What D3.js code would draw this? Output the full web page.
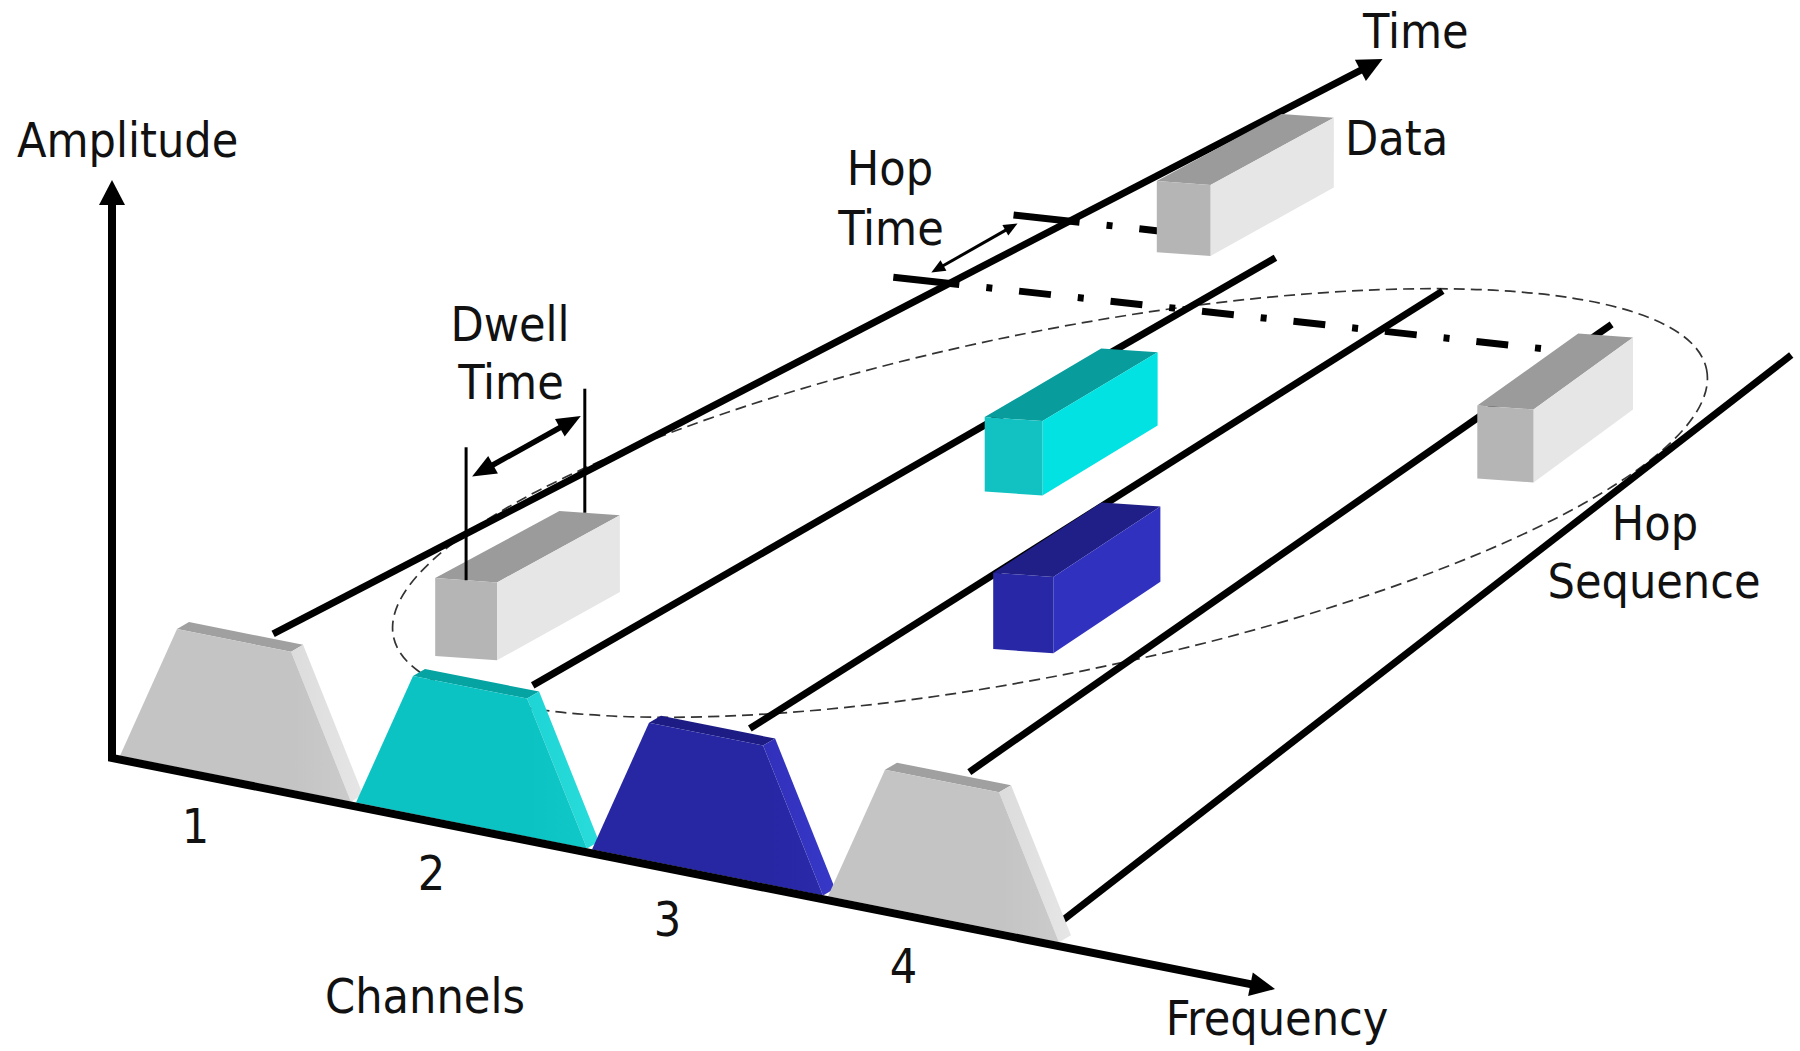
<!DOCTYPE html>
<html><head><meta charset="utf-8">
<script src="https://cdn.jsdelivr.net/npm/d3@7"></script>
<style>
html,body{margin:0;padding:0;background:#fff;}
svg text{font-family:"DejaVu Sans Condensed","DejaVu Sans",sans-serif;font-stretch:condensed;fill:#111;font-size:48px;}
</style></head><body>
<svg id="c" width="1800" height="1051"></svg>
<script>
// ---------------- data ----------------
const channels = ["1", "2", "3", "4"];
const channelColor = ["gray", "cyan", "blue", "gray"];
// lateral position (channel units) of every channel's time line, and where each line starts / ends in depth
const lineLanes = [0.97, 2.07, 2.99, 3.92, 4.88];
const lineStart = [0, 0, 0, 0, -0.052];
const lineEnd = [0.318, 0.23, 0.23, 0.23, 0.232];
// hop sequence: channel used in each hop, lateral position of the packet, start time of the hop
const hopChannel = [1, 3, 2, 4, 1];
const hopLateral = [1.6, 3.39, 2.48, 4.26, 1.55];
const hopStart = [0, 0.86, 2.0, 2.81, 4.0];
const dwellTime = 0.68;
// hop-time markers: times on the time axis and the packet each guide runs to
const hopMarks = [3.47, 4.1];
const hopMarkPacket = [3, 4];
// texts
const axisTitles = ["Amplitude", "Time", "Frequency", "Channels"];
const notes = [["Dwell", "Time"], ["Hop", "Time"], ["Hop", "Sequence"], ["Data"]];

// ---------------- scales / projection ----------------
const fx = d3.scaleLinear().domain([0, 1]).range([120, 356]);
const fy = d3.scaleLinear().domain([0, 1]).range([759.8, 806.65]);
const freqPt = f => [fx(f), fy(f)];
const amp = d3.scaleLinear().domain([0, 1]).range([0, 138]);
const ampAxis = d3.scaleLinear().domain([0, 1]).range([758, 180]);
const depth = d3.scaleLinear().domain([0, 4]).range([0.004, 0.2228]);
const VP = [3762, -1174];
const ext = [12, -7];
const channelShape = [[0, 0], [0.2415, 1], [0.725, 1], [0.979, 0]];

const add = (a, b) => [a[0] + b[0], a[1] + b[1]];
const sub = (a, b) => [a[0] - b[0], a[1] - b[1]];
const mul = (a, k) => [a[0] * k, a[1] * k];
const lerp = (a, b, t) => [a[0] + (b[0] - a[0]) * t, a[1] + (b[1] - a[1]) * t];
const norm = a => { const l = Math.hypot(a[0], a[1]); return [a[0] / l, a[1] / l]; };
const poly = pts => "M" + pts.map(p => p[0].toFixed(1) + "," + p[1].toFixed(1)).join("L") + "Z";
const line = d3.line();

function laneStart(u) { const p = freqPt(u - 0.372); return [p[0] + 12, p[1] - 154]; }
function P(u, g) { const s = laneStart(u); return lerp(s, VP, g); }

const palette = {
  gray: { front: "#c4c4c4", front2: "#cbcbcb", top: "#a0a0a0", side: "#dcdcdc", side2: "#e6e6e6", bFront: "#b5b5b5", bSide: "#e6e6e6", bTop: "#9b9b9b" },
  cyan: { front: "#0cc3c3", front2: "#10c8c8", top: "#06a3a3", side: "#1ed4d4", side2: "#2adcdc", bFront: "#12c2c2", bSide: "#02e2e2", bTop: "#089c9c" },
  blue: { front: "#2727a4", front2: "#2a2aaa", top: "#1c1c84", side: "#3030bb", side2: "#3838c8", bFront: "#2828a6", bSide: "#3131bf", bTop: "#1f1f87" }
};

const svg = d3.select("#c");
const defs = svg.append("defs");
Object.entries(palette).forEach(([k, c]) => {
  const gf = defs.append("linearGradient").attr("id", "f-" + k).attr("x1", 0).attr("x2", 1).attr("y1", 0).attr("y2", 0);
  gf.append("stop").attr("offset", 0).attr("stop-color", c.front);
  gf.append("stop").attr("offset", 0.75).attr("stop-color", c.front);
  gf.append("stop").attr("offset", 1).attr("stop-color", c.front2);
  const gs = defs.append("linearGradient").attr("id", "s-" + k).attr("x1", 0).attr("x2", 1).attr("y1", 0).attr("y2", 0);
  gs.append("stop").attr("offset", 0).attr("stop-color", c.side);
  gs.append("stop").attr("offset", 1).attr("stop-color", c.side2);
});

const gEll = svg.append("g"), gLines = svg.append("g"), gGuide = svg.append("g"),
      gBox = svg.append("g"), gDwell = svg.append("g"), gTrap = svg.append("g"),
      gAxes = svg.append("g"), gText = svg.append("g");

function arrowHead(g, tip, dir, L, w, fill) {
  const d = norm(dir), n = [-d[1], d[0]];
  const base = sub(tip, mul(d, L));
  g.append("path").attr("d", poly([tip, add(base, mul(n, w)), sub(base, mul(n, w))])).attr("fill", fill);
}

// ---------------- hop sequence ellipse ----------------
gEll.append("ellipse")
  .attr("cx", 1050).attr("cy", 503).attr("rx", 670).attr("ry", 171)
  .attr("transform", "rotate(-11.5 1050 503)")
  .attr("fill", "none").attr("stroke", "#333").attr("stroke-width", 1.7)
  .attr("stroke-dasharray", "11 6");

// ---------------- channel time lines ----------------
lineLanes.forEach((u, k) => {
  const a = P(u, lineStart[k]), b = P(u, lineEnd[k]);
  if (k === 0) {
    const d = norm(sub(b, a));
    gLines.append("path").attr("d", line([a, sub(b, mul(d, 20))]))
      .attr("stroke", "#000").attr("stroke-width", 7).attr("fill", "none");
    arrowHead(gLines, b, d, 25, 12, "#000");
  } else {
    gLines.append("path").attr("d", line([a, b]))
      .attr("stroke", "#000").attr("stroke-width", 7).attr("fill", "none");
  }
});

// ---------------- packets ----------------
function boxGeom(i) {
  const u = hopLateral[i];
  const g0 = depth(hopStart[i]), g1 = depth(hopStart[i] + dwellTime);
  const s0 = 1 - 0.4 * g0, s1 = 1 - 0.4 * g1;
  const w0 = 62 * (1 - 0.6 * g0), w1 = 62 * (1 - 0.6 * g1);
  const H = 78, slope = 0.07;
  const FBL = P(u, g0), BBL = P(u, g1);
  const FBR = add(FBL, [w0, w0 * slope]);
  const BBR = add(BBL, [w1, w1 * slope]);
  const FTL = sub(FBL, [0, H * s0]), FTR = sub(FBR, [0, H * s0]);
  const BTL = sub(BBL, [0, H * s1]), BTR = sub(BBR, [0, H * s1]);
  return { FBL, FBR, FTL, FTR, BBL, BBR, BTL, BTR };
}
const boxes = hopChannel.map((c, i) => boxGeom(i));

// ---------------- hop-time guides ----------------
const guideSlope = 0.11;
const marks = hopMarks.map((t, i) => {
  const C = P(lineLanes[0], depth(t));
  const bx = boxes[hopMarkPacket[i]];
  const endX = lerp(bx.FTL, bx.BTL, i === 0 ? 0.7 : 0.05)[0];
  const at = x => [x, C[1] + guideSlope * (x - C[0])];
  gGuide.append("path").attr("d", line([at(C[0] - 56), at(C[0] + 10)]))
    .attr("stroke", "#000").attr("stroke-width", 7).attr("fill", "none");
  gGuide.append("path").attr("d", line([at(C[0] + 37), at(endX)]))
    .attr("stroke", "#000").attr("stroke-width", 7).attr("fill", "none")
    .attr("stroke-dasharray", "6 27 32 27");
  return { C, at };
});
{
  const a = add(marks[0].at(marks[0].C[0] - 18), [0, -9]);
  const b = add(marks[1].at(marks[1].C[0] - 52), [0, 8]);
  const d = norm(sub(b, a));
  gGuide.append("path").attr("d", line([add(a, mul(d, 10)), sub(b, mul(d, 10))]))
    .attr("stroke", "#000").attr("stroke-width", 3).attr("fill", "none");
  arrowHead(gGuide, a, mul(d, -1), 14, 6, "#000");
  arrowHead(gGuide, b, d, 14, 6, "#000");
}

// draw boxes
boxes.forEach((b, i) => {
  const col = palette[channelColor[hopChannel[i] - 1]];
  gBox.append("path").attr("d", poly([b.FTL, b.BTL, b.BTR, b.FTR])).attr("fill", col.bTop);
  gBox.append("path").attr("d", poly([b.FTR, b.BTR, b.BBR, b.FBR])).attr("fill", col.bSide);
  gBox.append("path").attr("d", poly([b.FTL, b.FTR, b.FBR, b.FBL])).attr("fill", col.bFront);
});

// ---------------- dwell time marker (first packet) ----------------
{
  const b = boxes[0];
  const p0 = lerp(b.FTL, b.FTR, 0.5), p1 = lerp(b.BTL, b.BTR, 0.42);
  const h0 = 133, h1 = 124;
  gDwell.append("path").attr("d", line([p0, sub(p0, [0, h0])])).attr("stroke", "#000").attr("stroke-width", 3);
  gDwell.append("path").attr("d", line([p1, sub(p1, [0, h1])])).attr("stroke", "#000").attr("stroke-width", 3);
  const a = add(sub(p0, [0, h0 * 0.78]), [6, 0]);
  const c = add(sub(p1, [0, h1 * 0.78]), [-4, 0]);
  const d = norm(sub(c, a));
  gDwell.append("path").attr("d", line([add(a, mul(d, 18)), sub(c, mul(d, 18))]))
    .attr("stroke", "#000").attr("stroke-width", 5.5).attr("fill", "none");
  arrowHead(gDwell, a, mul(d, -1), 24, 10, "#000");
  arrowHead(gDwell, c, d, 24, 10, "#000");
}

// ---------------- channel trapezoids ----------------
channels.forEach((ch, i) => {
  const k = channelColor[i], col = palette[k];
  const pts = channelShape.map(([f, a]) => sub(freqPt(i + f), [0, 4 + amp(a)]));
  const [BL, TL, TR, BR] = pts;
  gTrap.append("path").attr("d", poly([TL, add(TL, ext), add(TR, ext), TR])).attr("fill", col.top);
  gTrap.append("path").attr("d", poly([TR, add(TR, ext), add(BR, ext), BR])).attr("fill", "url(#s-" + k + ")");
  gTrap.append("path").attr("d", poly([BL, TL, TR, BR])).attr("fill", "url(#f-" + k + ")");
  gText.append("text").attr("x", fx(i + 0.32)).attr("y", fy(i + 0.32) + 68)
    .attr("text-anchor", "middle").text(ch);
});

// ---------------- axes ----------------
{
  const corner = [112, ampAxis(0)];
  const topTip = [112, ampAxis(1)];
  const fTip = freqPt(4.894);
  const dF = norm(sub(fTip, corner));
  gAxes.append("path").attr("d", line([add(topTip, [0, 20]), corner, sub(fTip, mul(dF, 20))]))
    .attr("stroke", "#000").attr("stroke-width", 8).attr("fill", "none").attr("stroke-linejoin", "miter");
  arrowHead(gAxes, topTip, [0, -1], 25, 13, "#000");
  arrowHead(gAxes, fTip, dF, 25, 12, "#000");
}

// ---------------- texts ----------------
const put = (t, x, y, anchor) => gText.append("text").attr("x", x).attr("y", y).attr("text-anchor", anchor).text(t);
put(axisTitles[0], 17, 157, "start");
put(axisTitles[1], 1363, 48, "start");
put(axisTitles[2], 1277, 1035, "middle");
put(axisTitles[3], 425, 1013, "middle");
put(notes[0][0], 510, 341, "middle");
put(notes[0][1], 511, 399, "middle");
put(notes[1][0], 890, 185, "middle");
put(notes[1][1], 891, 245, "middle");
put(notes[2][0], 1655, 540, "middle");
put(notes[2][1], 1654, 598, "middle");
put(notes[3][0], 1345, 155, "start");
</script>
</body></html>
